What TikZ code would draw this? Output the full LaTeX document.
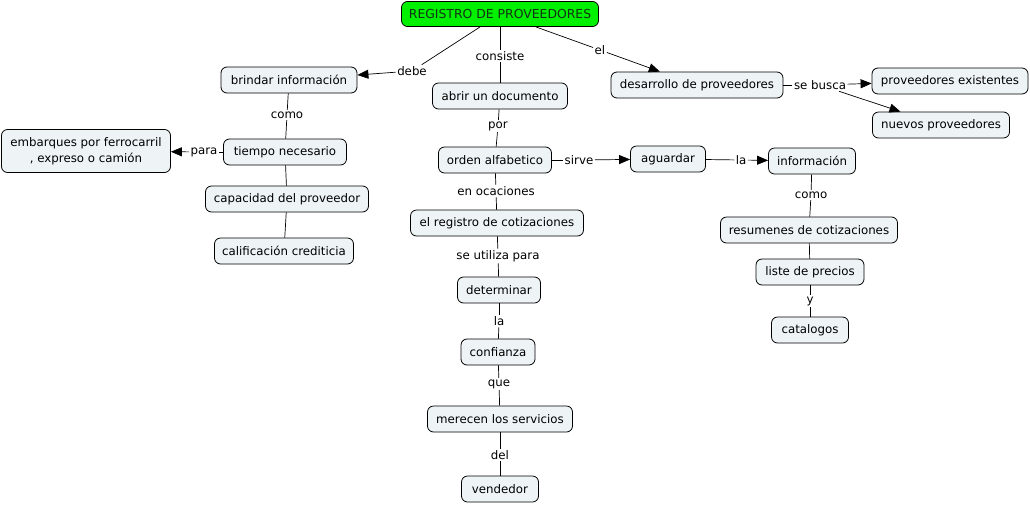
\documentclass[tikz,border=0pt]{standalone}
\usepackage{fontspec}
\setmainfont{DejaVu Sans}
\usetikzlibrary{arrows.meta}
\definecolor{boxfill}{RGB}{238,244,246}
\definecolor{titlegreen}{RGB}{0,240,0}
\definecolor{titletext}{RGB}{20,50,20}
\tikzset{
  concept/.style={draw=black, line width=0.8pt, rounded corners=6pt, fill=boxfill,
    minimum height=26pt, inner xsep=4pt, inner ysep=2pt, font=\fontsize{11.8}{15.5}\selectfont},
  title/.style={concept, fill=titlegreen, text=titletext, font=\fontsize{12.4}{15}\selectfont},
  lbl/.style={inner sep=1.5pt, font=\fontsize{11.8}{14}\selectfont, fill=white},
  link/.style={line width=0.7pt, draw=black},
  arr/.style={link, -{Triangle[length=11pt,width=9pt]}}
}
\begin{document}
\begin{tikzpicture}[x=1pt,y=-1pt]
\useasboundingbox[fill=white] (0,0) rectangle (1030,504);
% concepts
\node[title, minimum width=197pt, minimum height=25pt] (reg) at (500,14) {REGISTRO DE PROVEEDORES};
\node[concept, minimum width=136pt] (brindar) at (289,80) {brindar información};
\node[concept, minimum width=135pt] (abrir) at (500,96) {abrir un documento};
\node[concept, minimum width=172pt] (desarrollo) at (697,85) {desarrollo de proveedores};
\node[concept, minimum width=156pt] (existentes) at (950,81) {proveedores existentes};
\node[concept, minimum width=137pt] (nuevos) at (941,125) {nuevos proveedores};
\node[concept, minimum width=169pt, minimum height=43pt, align=center] (embarques) at (86,151) {embarques por ferrocarril\\, expreso o camión};
\node[concept, minimum width=123pt] (tiempo) at (285,152) {tiempo necesario};
\node[concept, minimum width=113pt] (orden) at (495,160) {orden alfabetico};
\node[concept, minimum width=75pt] (aguardar) at (668,159) {aguardar};
\node[concept, minimum width=87pt] (informacion) at (812,161) {información};
\node[concept, minimum width=163pt] (capacidad) at (287,199) {capacidad del proveedor};
\node[concept, minimum width=139pt] (calificacion) at (284,251) {calificación crediticia};
\node[concept, minimum width=173pt] (registro) at (497,223) {el registro de cotizaciones};
\node[concept, minimum width=177pt] (resumenes) at (809,230) {resumenes de cotizaciones};
\node[concept, minimum width=108pt] (liste) at (810,272) {liste de precios};
\node[concept, minimum width=77pt] (catalogos) at (810,330) {catalogos};
\node[concept, minimum width=83pt] (determinar) at (499,290) {determinar};
\node[concept, minimum width=74pt] (confianza) at (498,352) {confianza};
\node[concept, minimum width=145pt] (merecen) at (500,419) {merecen los servicios};
\node[concept, minimum width=77pt] (vendedor) at (500,489) {vendedor};
% link labels
\node[lbl] (debe) at (412,71) {debe};
\node[lbl] (consiste) at (500,56) {consiste};
\node[lbl] (el) at (600,50) {el};
\node[lbl] (como1) at (287,115) {como};
\node[lbl] (para) at (204,152) {para};
\node[lbl] (por) at (498,126) {por};
\node[lbl] (sirve) at (579,160) {sirve};
\node[lbl] (la1) at (741,160) {la};
\node[lbl] (sebusca) at (820,85) {se busca};
\node[lbl] (enocaciones) at (496,191) {en ocaciones};
\node[lbl] (como2) at (811,195) {como};
\node[lbl] (seutiliza) at (498,256) {se utiliza para};
\node[lbl] (la2) at (499,321) {la};
\node[lbl] (y) at (810,301) {y};
\node[lbl] (que) at (499,384) {que};
\node[lbl] (del) at (500,455) {del};
% connectors
\draw[link] (reg) -- (debe);
\draw[arr] (debe) -- (brindar);
\draw[link] (reg) -- (consiste);
\draw[link] (consiste) -- (abrir);
\draw[link] (reg) -- (el);
\draw[arr] (el) -- (desarrollo);
\draw[link] (brindar) -- (como1);
\draw[link] (como1) -- (tiempo);
\draw[link] (tiempo) -- (para);
\draw[arr] (para) -- (embarques);
\draw[link] (tiempo) -- (capacidad);
\draw[link] (capacidad) -- (calificacion);
\draw[link] (abrir) -- (por);
\draw[link] (por) -- (orden);
\draw[link] (orden) -- (sirve);
\draw[arr] (sirve) -- (aguardar);
\draw[link] (aguardar) -- (la1);
\draw[arr] (la1) -- (informacion);
\draw[link] (desarrollo) -- (sebusca);
\draw[arr] (sebusca) -- (existentes);
\draw[arr] (sebusca) -- (nuevos);
\draw[link] (informacion) -- (como2);
\draw[link] (como2) -- (resumenes);
\draw[link] (resumenes) -- (liste);
\draw[link] (liste) -- (y);
\draw[link] (y) -- (catalogos);
\draw[link] (orden) -- (enocaciones);
\draw[link] (enocaciones) -- (registro);
\draw[link] (registro) -- (seutiliza);
\draw[link] (seutiliza) -- (determinar);
\draw[link] (determinar) -- (la2);
\draw[link] (la2) -- (confianza);
\draw[link] (confianza) -- (que);
\draw[link] (que) -- (merecen);
\draw[link] (merecen) -- (del);
\draw[link] (del) -- (vendedor);
\end{tikzpicture}
\end{document}
